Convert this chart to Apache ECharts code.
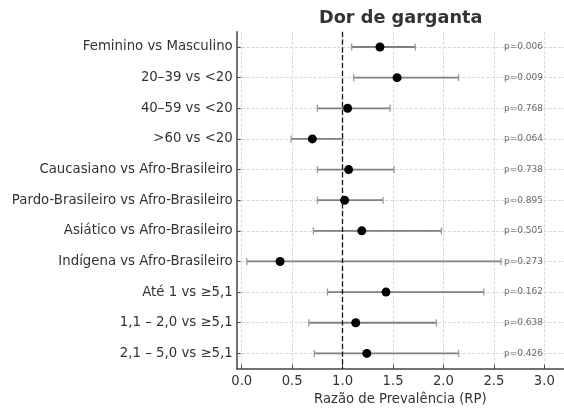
<!DOCTYPE html>
<html>
<head>
<meta charset="utf-8">
<script src="https://cdn.jsdelivr.net/npm/echarts@6/dist/echarts.min.js"></script>
<style>
    html, body { margin: 0; padding: 0; background: #fff; }
    #chart { width: 564px; height: 408px; }
</style>
</head>
<body>
<div id="chart"></div>
<script>
// comparações (de cima para baixo)
var categories = [
    'Feminino vs Masculino',
    '20–39 vs <20',
    '40–59 vs <20',
    '>60 vs <20',
    'Caucasiano vs Afro-Brasileiro',
    'Pardo-Brasileiro vs Afro-Brasileiro',
    'Asiático vs Afro-Brasileiro',
    'Indígena vs Afro-Brasileiro',
    'Até 1 vs ≥5,1',
    '1,1 – 2,0 vs ≥5,1',
    '2,1 – 5,0 vs ≥5,1'
];
var rp = [1.37, 1.54, 1.05, 0.70, 1.06, 1.02, 1.19, 0.38, 1.43, 1.13, 1.24];
var ciLow = [1.09, 1.11, 0.75, 0.49, 0.75, 0.75, 0.71, 0.05, 0.85, 0.665, 0.72];
var ciHigh = [1.72, 2.15, 1.47, 1.00, 1.51, 1.40, 1.98, 2.57, 2.40, 1.93, 2.15];
var pValues = ['0.006', '0.009', '0.768', '0.064', '0.738', '0.895', '0.505', '0.273', '0.162', '0.638', '0.426'];
var xTicks = [0, 0.5, 1.0, 1.5, 2.0, 2.5, 3.0];
var pTextX = 2.6;

var rowIdx = categories.map(function (c, i) { return i; });

var chart = echarts.init(document.getElementById('chart'));

var font = 'DejaVu Sans';

var option = {
    backgroundColor: '#fff',
    animation: false,
    title: {
        text: 'Dor de garganta',
        left: 314,
        top: 4,
        textStyle: { fontFamily: font, fontSize: 17.7, fontWeight: 'bold', color: '#333' }
    },
    grid: { left: 236.7, right: 0, top: 31.7, bottom: 39.3, outerBoundsMode: 'none' },
    xAxis: {
        type: 'value',
        min: -0.05,
        max: 3.195,
        name: 'Razão de Prevalência (RP)',
        nameLocation: 'middle',
        nameGap: 24,
        nameTextStyle: { fontFamily: font, fontSize: 13.2, color: '#333' },
        axisLine: { show: true, onZero: false, lineStyle: { color: '#444', width: 1.5 } },
        axisTick: { show: true, inside: true, length: 4, customValues: xTicks, lineStyle: { color: '#444' } },
        axisLabel: {
            customValues: xTicks, fontFamily: font, fontSize: 13.2, color: '#333', margin: 6,
            formatter: function (v) { return v.toFixed(1); }
        },
        splitLine: { show: true, lineStyle: { color: '#d0d0d0', type: 'dashed', width: 0.8 } }
    },
    yAxis: {
        type: 'value',
        inverse: true,
        min: -0.5,
        max: 10.5,
        axisLine: { show: true, onZero: false, lineStyle: { color: '#444', width: 1.5 } },
        axisTick: { show: true, inside: true, length: 4, customValues: rowIdx, lineStyle: { color: '#444' } },
        axisLabel: {
            customValues: rowIdx, fontFamily: font, fontSize: 13.3, color: '#333', margin: 4,
            formatter: function (v) { return categories[Math.round(v)] || ''; }
        },
        splitLine: { show: true, lineStyle: { color: '#d0d0d0', type: 'dashed', width: 0.8 } }
    },
    series: [
        {
            type: 'custom',
            name: 'IC',
            data: rowIdx.map(function (i) { return [ciLow[i], ciHigh[i], i]; }),
            encode: { x: [0, 1], y: 2 },
            renderItem: function (params, api) {
                var a = api.coord([api.value(0), api.value(2)]);
                var b = api.coord([api.value(1), api.value(2)]);
                var h = 3.5;
                var st = { stroke: '#808080', lineWidth: 1.8 };
                var cap = { stroke: '#999', lineWidth: 1.3 };
                return {
                    type: 'group',
                    children: [
                        { type: 'line', shape: { x1: a[0], y1: a[1], x2: b[0], y2: b[1] }, style: st },
                        { type: 'line', shape: { x1: a[0], y1: a[1] - h, x2: a[0], y2: a[1] + h }, style: cap },
                        { type: 'line', shape: { x1: b[0], y1: b[1] - h, x2: b[0], y2: b[1] + h }, style: cap }
                    ]
                };
            },
            markLine: {
                silent: true,
                symbol: 'none',
                label: { show: false },
                lineStyle: { color: '#111', type: 'dashed', width: 1.3 },
                data: [{ xAxis: 1 }]
            },
            z: 2
        },
        {
            type: 'scatter',
            name: 'RP',
            data: rowIdx.map(function (i) { return [rp[i], i]; }),
            symbol: 'circle',
            symbolSize: 9,
            itemStyle: { color: '#000', opacity: 1 },
            z: 3
        },
        {
            type: 'scatter',
            name: 'p',
            data: rowIdx.map(function (i) { return [pTextX, i]; }),
            symbolSize: 0,
            label: {
                show: true,
                position: 'right',
                distance: 0,
                fontFamily: font,
                fontSize: 9,
                color: '#444',
                formatter: function (p) { return 'p=' + pValues[p.dataIndex]; }
            },
            z: 3
        }
    ]
};

chart.setOption(option);
</script>
</body>
</html>
